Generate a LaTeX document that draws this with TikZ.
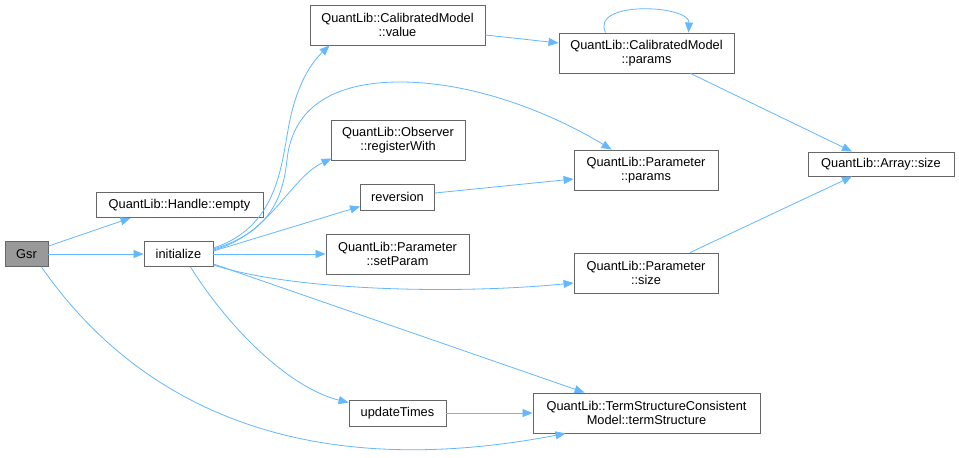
\documentclass[tikz,border=0pt]{standalone}
\usepackage{fontspec}
\setmainfont{Liberation Sans}
\usetikzlibrary{arrows.meta,calc}
\definecolor{edgeblue}{RGB}{99,184,255}
\definecolor{boxgray}{RGB}{102,102,102}
\definecolor{gsrfill}{RGB}{153,153,153}
\tikzset{
  fn/.style={draw=boxgray, line width=0.9pt, fill=white, inner sep=0pt, align=center,
    font=\fontsize{12.8}{14.3}\selectfont},
  root/.style={fn, fill=gsrfill},
  edge/.style={draw=edgeblue, line width=0.8pt, -{Triangle[length=10pt,width=8pt]}},
}
\begin{document}
\begin{tikzpicture}[x=1pt,y=-1pt]
\useasboundingbox (0,0) rectangle (959,458);
\fill[white] (0,0) rectangle (959,458);

\node[root, minimum width=43, minimum height=25] (gsr) at (26.5,254) {Gsr};
\node[fn, minimum width=167, minimum height=25] (handle) at (179.5,205) {QuantLib::Handle::empty};
\node[fn, minimum width=69, minimum height=25] (init) at (178.5,254) {initialize};
\node[fn, minimum width=175, minimum height=40] (value) at (397.5,25) {QuantLib::CalibratedModel\\::value};
\node[fn, minimum width=175, minimum height=40] (cparams) at (646.5,53) {QuantLib::CalibratedModel\\::params};
\node[fn, minimum width=134, minimum height=40] (register) at (398,140) {QuantLib::Observer\\::registerWith};
\node[fn, minimum width=144, minimum height=40] (pparams) at (646,170) {QuantLib::Parameter\\::params};
\node[fn, minimum width=74, minimum height=26] (reversion) at (397.5,197) {reversion};
\node[fn, minimum width=143, minimum height=40] (setparam) at (397.5,254) {QuantLib::Parameter\\::setParam};
\node[fn, minimum width=144, minimum height=40] (psize) at (646,273) {QuantLib::Parameter\\::size};
\node[fn, minimum width=146, minimum height=24] (arrsize) at (881,164) {QuantLib::Array::size};
\node[fn, minimum width=97, minimum height=26] (update) at (397.5,413) {updateTimes};
\node[fn, minimum width=227, minimum height=40] (term) at (646.5,413) {QuantLib::TermStructureConsistent\\Model::termStructure};

\draw[edge] ($(gsr.north east)+(0,5)$) -- ($(handle.south west)+(35,0)$);
\draw[edge] (gsr.east) -- (init.west);
\draw[edge] ($(gsr.south east)+(-7,0)$) .. controls (120,380) and (270,490) .. ($(term.south west)+(33,0)$);
\draw[edge] ($(init.east)+(0,-6)$) .. controls (275,228) and (281,170) .. (288,130) .. controls (295,90) and (308,66) .. ($(value.south west)+(20,0)$);
\draw[edge] ($(init.east)+(0,-5)$) .. controls (272,232) and (283,195) .. (287,160) .. controls (292,110) and (330,82) .. (400,82) .. controls (480,82) and (560,118) .. ($(pparams.north west)+(38,0)$);
\draw[edge] ($(init.east)+(0,-4)$) .. controls (270,235) and (290,178) .. ($(register.south west)+(1,-2)$);
\draw[edge] ($(init.east)+(0,-3)$) -- ($(reversion.south west)+(0,-4)$);
\draw[edge] (init.east) -- (setparam.west);
\draw[edge] ($(init.south east)+(0,-2)$) .. controls (290,290) and (450,295) .. ($(psize.west)+(0,10)$);
\draw[edge] ($(init.south east)+(0,-3)$) -- ($(term.north west)+(52,0)$);
\draw[edge] ($(init.south)+(12,0)$) .. controls (230,330) and (290,388) .. ($(update.north west)+(0,3)$);
\draw[edge] (update.east) -- (term.west);
\draw[edge] ($(value.east)+(0,10)$) -- ($(cparams.west)+(0,-10)$);
\draw[edge] ($(cparams.north)+(-41,0)$) .. controls (590,0) and (690,5) .. ($(cparams.north)+(42,0)$);
\draw[edge] ($(cparams.south)+(44,0)$) -- ($(arrsize.north)+(-29,0)$);
\draw[edge] ($(reversion.east)+(0,-4)$) -- ($(pparams.west)+(0,9)$);
\draw[edge] ($(psize.north)+(44,0)$) -- ($(arrsize.south)+(-29,0)$);
\end{tikzpicture}
\end{document}
